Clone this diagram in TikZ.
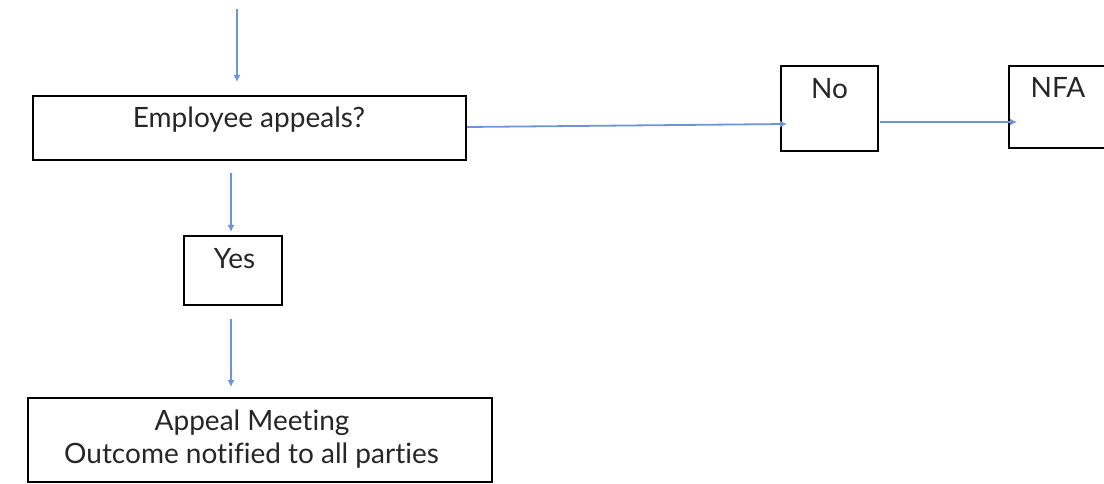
\documentclass[tikz,border=0pt]{standalone}
\usepackage{fontspec}
\setmainfont{Lato}[Ligatures=NoCommon]
\usetikzlibrary{arrows.meta,calc}
\definecolor{arrowblue}{HTML}{6D93D8}
\tikzset{
  box/.style={draw=black, line width=1.6pt, rectangle, inner sep=0pt, outer sep=0pt},
  txt/.style={inner sep=0pt, anchor=base, text=black!85, font=\fontsize{28}{33}\selectfont},
  arr/.style={draw=arrowblue, line width=1.8pt, -{Latex[length=7pt,width=7pt]}}
}
\begin{document}
\begin{tikzpicture}[x=1pt,y=-1pt]
\useasboundingbox (0,0) rectangle (1104,484);
% boxes
\node[box, minimum width=433pt, minimum height=64pt, anchor=north west] (emp) at (33,96) {};
\node[box, minimum width=97pt, minimum height=85pt, anchor=north west] (no) at (781,66) {};
\node[box, minimum width=100pt, minimum height=82pt, anchor=north west] (nfa) at (1009,66) {};
\node[box, minimum width=98pt, minimum height=69pt, anchor=north west] (yes) at (184,236) {};
\node[box, minimum width=464pt, minimum height=84pt, anchor=north west] (appeal) at (28,398) {};
% texts
\node[txt] (empT) at (249,128) {Employee appeals?};
\node[txt] (noT) at (829.5,99) {No};
\node[txt] (nfaT) at (1058,98) {NFA};
\node[txt] (yesT) at (234.5,268) {Yes};
\node[txt] (appT1) at (252,430) {Appeal Meeting};
\node[txt] (appT2) at (251.5,463) {Outcome notified to all parties};
% connectors
\coordinate (start) at (237,9);
\draw[arr] (start) -- ($(start |- emp.north)+(0,-14)$);
\draw[arr] ($(emp.east)+(1,-1)$) -- ($(no.west)+(6,15.5)$);
\draw[arr] ($(no.east)+(2,13.5)$) -- ($(nfa.west)+(8,15)$);
\draw[arr] ($(yes.north -| 231,0)+(0,-63)$) -- ($(yes.north -| 231,0)+(0,-4)$);
\draw[arr] ($(yes.south -| 231,0)+(0,14)$) -- ($(appeal.north -| 231,0)+(0,-11)$);
\end{tikzpicture}
\end{document}
